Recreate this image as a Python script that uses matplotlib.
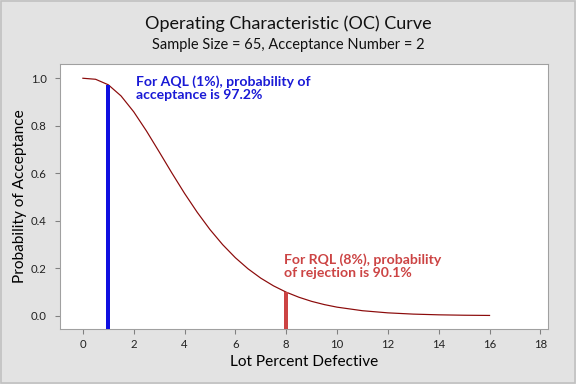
import matplotlib
matplotlib.use("Agg")
import matplotlib.pyplot as plt
from matplotlib.patches import Rectangle

# Lot percent defective (x) and probability of acceptance
pct_defective = [0, 0.5, 1, 1.5, 2, 2.5, 3, 3.5, 4, 4.5, 5, 5.5, 6, 6.5, 7, 7.5,
                 8, 8.5, 9, 9.5, 10, 11, 12, 13, 14, 15, 16]
prob_accept = [1.0, 0.9957, 0.9725, 0.9257, 0.8588, 0.7782, 0.6905, 0.6013,
               0.5152, 0.4353, 0.3629, 0.2992, 0.2441, 0.1973, 0.1581, 0.1257,
               0.0991, 0.0777, 0.0604, 0.0468, 0.0360, 0.0210, 0.0120, 0.0067,
               0.0037, 0.0020, 0.0011]

aql_x, aql_p = 1, 0.972
rql_x, rql_p = 8, 0.099

x_ticks = [0, 2, 4, 6, 8, 10, 12, 14, 16, 18]
y_ticks = [0.0, 0.2, 0.4, 0.6, 0.8, 1.0]

plt.rcParams['font.family'] = ['Lato', 'DejaVu Sans']

fig = plt.figure(figsize=(6, 4), dpi=96, facecolor='#E3E3E3')
fig.patches.append(Rectangle((0.002, 0.002), 0.996, 0.996, transform=fig.transFigure,
                             fill=False, edgecolor='#C0C0C0', linewidth=1.2))
ax = fig.add_axes([60/576, 1 - 329/384, (548-60)/576, (329-64)/384])
ax.set_facecolor('white')

ax.plot(pct_defective, prob_accept, color='#8B0A0A', linewidth=0.9, zorder=2)
ax.vlines(aql_x, -0.056, aql_p, color='#1010E0', linewidth=3, zorder=3)
ax.vlines(rql_x, -0.056, rql_p, color='#CC4444', linewidth=3, zorder=3)

ax.text(2.1, 1.012, "For AQL (1%), probability of\nacceptance is 97.2%",
        color='#1A1AD6', fontsize=10.5, fontweight='bold', va='top', ha='left',
        linespacing=1.1)
ax.text(7.9, 0.262, "For RQL (8%), probability\nof rejection is 90.1%",
        color='#CC4444', fontsize=10.5, fontweight='bold', va='top', ha='left',
        linespacing=1.1)

ax.set_xlim(-0.9, 18.3)
ax.set_ylim(-0.056, 1.06)
ax.set_xticks(x_ticks)
ax.set_yticks(y_ticks)
ax.set_yticklabels([f"{v:.1f}" for v in y_ticks])
ax.tick_params(labelsize=8.5, color='#808080', length=4, labelcolor='#222222')
ax.tick_params(axis='y', pad=6)
for s in ax.spines.values():
    s.set_color('#A0A0A0')

ax.set_xlabel("Lot Percent Defective", fontsize=11.5, labelpad=4)
ax.set_ylabel("Probability of Acceptance", fontsize=11.5, labelpad=3)

fig.text(0.5, 1 - 24/384, "Operating Characteristic (OC) Curve", ha='center', va='center',
         fontsize=13.5, color='#111111')
fig.text(0.5, 1 - 45/384, "Sample Size = 65, Acceptance Number = 2", ha='center', va='center',
         fontsize=11, color='#111111')

fig.savefig("out.png", dpi=96, facecolor=fig.get_facecolor())
